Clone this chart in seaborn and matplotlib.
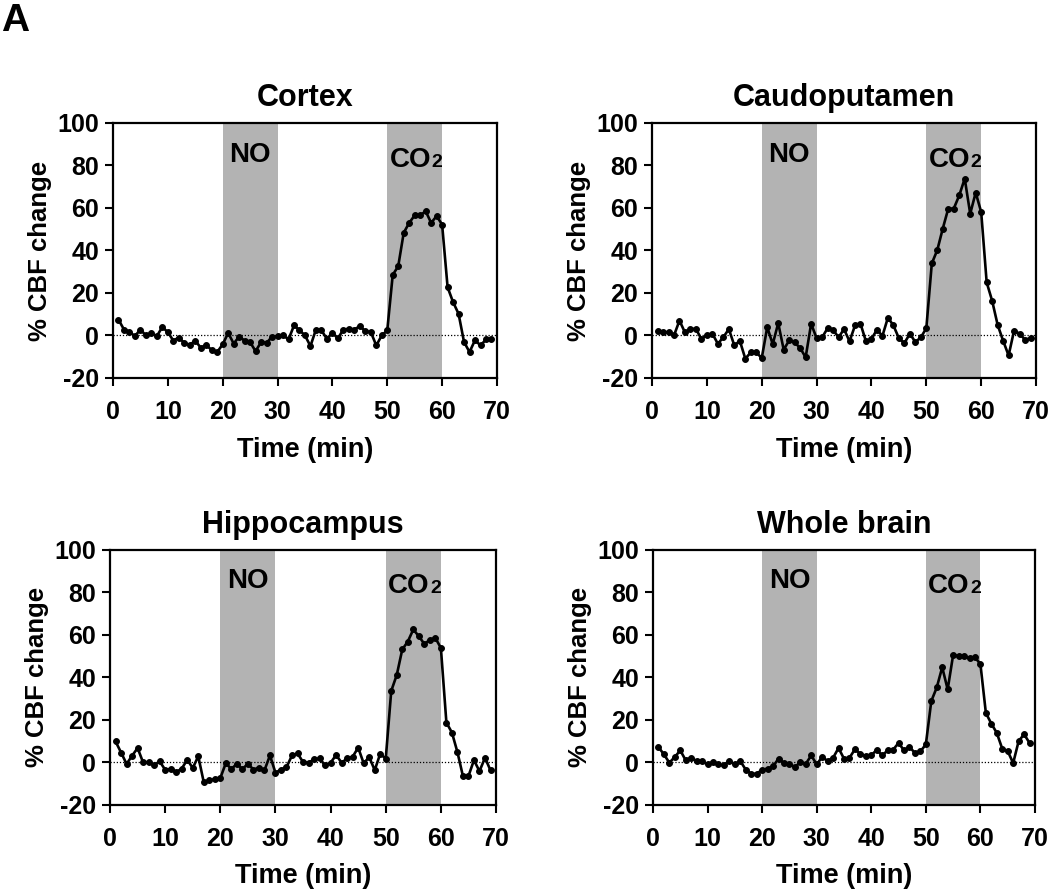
import numpy as np
import pandas as pd
import matplotlib
matplotlib.use("Agg")
import matplotlib.pyplot as plt
import seaborn as sns

# == DATA ==
minutes = list(range(1, 70))

cortex = [7.5, 2.8, 1.7, -0.3, 2.8, 0, 1, -0.3, 4, 1.5,
          -2.4, -1, -3.5, -4.5, -2.4, -5.8, -4.5, -6.9, -7.8, -4.2,
          1.2, -3.8, -0.6, -2.4, -3.2, -7.4, -3.1, -3.5, -0.6, -0.3,
          0.2, -1.9, 4.7, 2.5, 0, -5, 2.8, 2.4, -1.6, 1.3,
          -1.4, 2.8, 3.1, 2.8, 4.4, 2, 1.6, -4.7, 0, 2.4,
          28.5, 32.6, 48.3, 53, 56.5, 56.5, 58.5, 53, 56.2, 52.2,
          22.7, 15.7, 10.2, -3.1, -7.8, -2.2, -4.7, -1.9, -1.6]

caudoputamen = [2.3, 1.4, 1.6, 0, 7, 1.4, 3.1, 3.1, -1.7, 0.3,
                0.8, -3.9, -0.8, 3, -4.7, -2.5, -10.9, -8, -8, -10.6,
                3.9, -4.1, 5.8, -6.7, -2.3, -3.3, -5.9, -10.3, 5.5, -1.3,
                -0.9, 3.4, 2.7, -0.9, 3, -2.8, 4.7, 5.5, -2.8, -1.6,
                2.7, -0.2, 8.4, 4.7, -1.3, -3.6, 0.8, -3.1, -0.9, 3.4,
                33.9, 40.2, 50.3, 59.7, 59.7, 65.9, 73.8, 57.3, 67.2, 58.1,
                25, 16.3, 5, -2.5, -9.4, 2.3, 0.8, -2, -1.3]

hippocampus = [9.7, 4.5, -0.9, 3, 6.6, -0.2, -0.2, -1.3, 0.3, -3.6,
               -3.3, -4.7, -3.1, 1.1, -2.8, 2.7, -9.5, -8.6, -8, -7.5,
               -0.5, -3.3, -0.8, -3.3, -0.8, -3.5, -2.7, -3.9, 3.1, -5,
               -3.5, -2.4, 3.1, 4.1, 0, -0.3, 1.3, 1.7, -1.6, -0.3,
               3.3, -0.3, 1.7, 2.5, 6.8, -0.6, 2.4, -3.8, 3.9, 1.6,
               33.5, 41, 53, 56.7, 62.4, 59.2, 55.6, 57.5, 58.4, 53.7,
               18.6, 13.9, 4.7, -6.6, -6.6, 0.9, -4.3, 2, -3.9]

whole_brain = [7.1, 3.6, -0.3, 2.4, 5.5, 0.8, 2, 0.5, 0.3, -1.1,
               0, -1.1, -1.6, 0.5, -1.1, 0.5, -3.6, -5.5, -5.5, -3.6,
               -3.1, -2, 1.6, -0.5, -0.7, -2.4, 0, -0.8, 3.1, -1.1,
               2.4, 0.5, 2, 6.6, 1.6, 2, 6, 3.9, 2.8, 3.1,
               5.8, 3.1, 5.5, 5.8, 9, 5.5, 7.1, 4.3, 5, 8.3,
               28.7, 35.1, 44.6, 34.2, 50.4, 49.9, 49.9, 48.8, 49.3, 46.1,
               23.1, 18.1, 13.7, 6.3, 5.2, -0.5, 9.8, 13.1, 9]

regions = ["Cortex", "Caudoputamen", "Hippocampus", "Whole brain"]
no_window = (20, 30)
co2_window = (50, 60)
x_ticks = list(range(0, 80, 10))
y_ticks = list(range(-20, 120, 20))

df = pd.DataFrame({
    "Time": minutes * 4,
    "CBF": cortex + caudoputamen + hippocampus + whole_brain,
    "Region": np.repeat(regions, len(minutes)),
})

# == STYLE ==
sns.set_theme(style="ticks")
plt.rcParams["font.family"] = ["Liberation Sans", "DejaVu Sans"]
plt.rcParams["font.weight"] = "bold"
plt.rcParams["axes.labelweight"] = "bold"
plt.rcParams["axes.titleweight"] = "bold"
plt.rcParams["text.color"] = "black"
plt.rcParams["axes.labelcolor"] = "black"
plt.rcParams["axes.unicode_minus"] = False

fig = plt.figure(figsize=(10.5, 8.91), dpi=100)

# axes boxes in figure fractions [left, bottom, width, height]
boxes = [
    [0.1076, 0.5758, 0.3657, 0.2862],
    [0.6210, 0.5758, 0.3657, 0.2862],
    [0.1048, 0.0970, 0.3676, 0.2862],
    [0.6219, 0.0970, 0.3638, 0.2862],
]
band_color = "#b3b3b3"

for region, box in zip(regions, boxes):
    ax = fig.add_axes(box)
    sub = df[df["Region"] == region]

    ax.axvspan(*no_window, color=band_color, lw=0, zorder=0)
    ax.axvspan(*co2_window, color=band_color, lw=0, zorder=0)
    ax.axhline(0, color="black", ls=(0, (1, 1.5)), lw=0.9, zorder=1)

    sns.lineplot(data=sub, x="Time", y="CBF", ax=ax, color="black",
                 linewidth=1.9, marker="o", markersize=4.2,
                 markeredgecolor="black", errorbar=None, zorder=3)

    ax.set_xlim(0, 70)
    ax.set_ylim(-20, 100)
    ax.set_xticks(x_ticks)
    ax.set_yticks(y_ticks)
    ax.tick_params(direction="out", length=6, width=1.5, labelsize=18,
                   pad=4, colors="black")
    ax.tick_params(axis="x", pad=10)
    for s in ax.spines.values():
        s.set_linewidth(1.6)
        s.set_color("black")

    ax.set_title(region, fontsize=22, pad=12)
    ax.set_xlabel("Time (min)", fontsize=19.5, labelpad=9)
    ax.set_ylabel("% CBF change", fontsize=18.5, labelpad=4)

    # period labels
    ax.text(sum(no_window) / 2, 85, "NO", ha="center", va="center",
            fontsize=20, fontweight="bold")
    ax.text(58.0, 79.5, "CO", ha="right", va="baseline",
            fontsize=20, fontweight="bold")
    ax.text(58.1, 79.5, "2", ha="left", va="baseline",
            fontsize=14, fontweight="bold")

fig.text(0.001, 0.997, "A", ha="left", va="top", fontsize=28, fontweight="bold")

plt.savefig("out.png", dpi=100)
plt.close()
